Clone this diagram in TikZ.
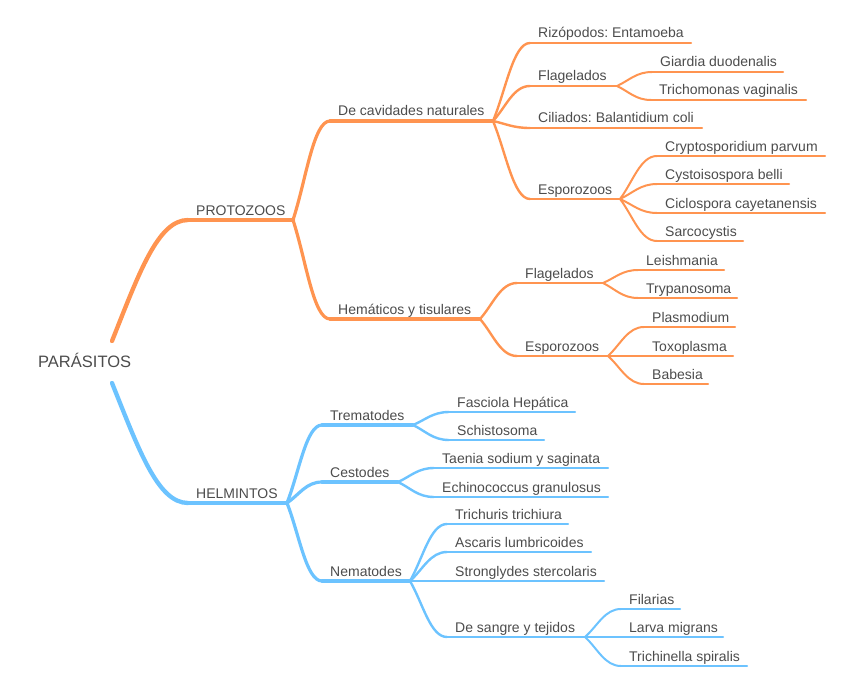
\documentclass[tikz,border=0pt]{standalone}
\usepackage{fontspec}
\setmainfont{Liberation Sans}
\usetikzlibrary{calc}
\definecolor{ora}{HTML}{FF9450}
\definecolor{blu}{HTML}{6CC3FF}
\definecolor{txt}{HTML}{4C4C4C}
\frenchspacing
\newcommand{\mmit}[6]{%
  \coordinate (#1s) at (#2,#3);
  \coordinate (#1e) at (#4,#3);
  \node[lbl] (#1) at (#1s) {#5};
  \draw[#6] (#1s) -- (#1e);
}
\begin{document}
\begin{tikzpicture}[x=1pt,y=-1pt,
  lbl/.style={anchor=base west, inner sep=0pt, xshift=8pt, yshift=5pt, text=txt, font=\fontsize{14}{16}\selectfont},
  rootlbl/.style={anchor=base west, inner sep=0pt, text=txt, font=\fontsize{16.5}{19}\selectfont},
  lA/.style={line width=4.3pt},
  lB/.style={line width=3.2pt},
  lC/.style={line width=2.4pt},
  lD/.style={line width=2pt},
  oc/.style={draw=ora, line cap=round, line join=round},
  bc/.style={draw=blu, line cap=round, line join=round},
  branch/.style={to path={let \p1=(\tikztostart), \p2=(\tikztotarget) in
     .. controls ({\x1+0.35*(\x2-\x1)},{\y1+0.4*(\y2-\y1)}) and ({\x1+0.55*(\x2-\x1)},\y2) .. (\tikztotarget)}},
  rootbranch/.style={line cap=butt, to path={let \p1=(\tikztostart), \p2=(\tikztotarget) in
     .. controls ({\x1+0.35*(\x2-\x1)},{\y1+0.55*(\y2-\y1)}) and ({\x1+0.6*(\x2-\x1)},\y2) .. (\tikztotarget)}}
]
\useasboundingbox (0,0) rectangle (848,690);

% root
\node[rootlbl] (root) at (38,367.7) {PARÁSITOS};
\coordinate (rt) at (112,341);
\coordinate (rb) at (112,383);

% level 1
\mmit{PRO}{188}{220}{293}{PROTOZOOS}{oc,lA}
\mmit{HEL}{188}{503}{287}{HELMINTOS}{bc,lA}

% level 2
\mmit{CAV}{330}{121}{493}{De cavidades naturales}{oc,lB}
\mmit{HEM}{330}{319}{480}{Hemáticos y tisulares}{oc,lB}
\mmit{TRE}{322}{425}{413}{Trematodes}{bc,lB}
\mmit{CES}{322}{482}{398}{Cestodes}{bc,lB}
\mmit{NEM}{322}{581}{410}{Nematodes}{bc,lB}

% level 3
\mmit{RIZ}{530}{43}{691}{Rizópodos: Entamoeba}{oc,lC}
\mmit{FLA}{530}{86}{617}{Flagelados}{oc,lC}
\mmit{CIL}{530}{128}{702}{Ciliados: Balantidium coli}{oc,lC}
\mmit{ESP}{530}{199}{620}{Esporozoos}{oc,lC}
\mmit{FLB}{517}{283}{603}{Flagelados}{oc,lC}
\mmit{ESQ}{517}{356}{608}{Esporozoos}{oc,lC}
\mmit{FAS}{449}{412}{575}{Fasciola Hepática}{bc,lC}
\mmit{SCH}{449}{440}{544}{Schistosoma}{bc,lC}
\mmit{TAE}{434}{468}{608}{Taenia sodium y saginata}{bc,lC}
\mmit{ECH}{434}{497}{608}{Echinococcus granulosus}{bc,lC}
\mmit{TRI}{447}{524}{568}{Trichuris trichiura}{bc,lC}
\mmit{ASC}{447}{552}{591}{Ascaris lumbricoides}{bc,lC}
\mmit{STR}{447}{581}{604}{Stronglydes stercolaris}{bc,lC}
\mmit{SAN}{447}{637}{585}{De sangre y tejidos}{bc,lC}

% level 4
\mmit{GIA}{652}{72}{783}{Giardia duodenalis}{oc,lD}
\mmit{TRC}{651}{100}{806}{Trichomonas vaginalis}{oc,lD}
\mmit{CRY}{657}{156}{825}{Cryptosporidium parvum}{oc,lD}
\mmit{CYS}{657}{184}{789}{Cystoisospora belli}{oc,lD}
\mmit{CIC}{657}{213}{825}{Ciclospora cayetanensis}{oc,lD}
\mmit{SAR}{657}{241}{743}{Sarcocystis}{oc,lD}
\mmit{LEI}{638}{270}{724}{Leishmania}{oc,lD}
\mmit{TRY}{638}{298}{737}{Trypanosoma}{oc,lD}
\mmit{PLA}{644}{327}{735}{Plasmodium}{oc,lD}
\mmit{TOX}{644}{356}{733}{Toxoplasma}{oc,lD}
\mmit{BAB}{644}{384}{708}{Babesia}{oc,lD}
\mmit{FIL}{621}{609}{680}{Filarias}{bc,lD}
\mmit{LAR}{621}{637}{723}{Larva migrans}{bc,lD}
\mmit{TRN}{621}{666}{747}{Trichinella spiralis}{bc,lD}

% connectors
\draw[oc,lA] (rt) to[rootbranch] (PROs);
\draw[bc,lA] (rb) to[rootbranch] (HELs);

\draw[oc,lB] (PROe) to[branch] (CAVs);
\draw[oc,lB] (PROe) to[branch] (HEMs);
\draw[bc,lB] (HELe) to[branch] (TREs);
\draw[bc,lB] (HELe) to[branch] (CESs);
\draw[bc,lB] (HELe) to[branch] (NEMs);

\draw[oc,lC] (CAVe) to[branch] (RIZs);
\draw[oc,lC] (CAVe) to[branch] (FLAs);
\draw[oc,lC] (CAVe) to[branch] (CILs);
\draw[oc,lC] (CAVe) to[branch] (ESPs);
\draw[oc,lC] (HEMe) to[branch] (FLBs);
\draw[oc,lC] (HEMe) to[branch] (ESQs);
\draw[bc,lC] (TREe) to[branch] (FASs);
\draw[bc,lC] (TREe) to[branch] (SCHs);
\draw[bc,lC] (CESe) to[branch] (TAEs);
\draw[bc,lC] (CESe) to[branch] (ECHs);
\draw[bc,lC] (NEMe) to[branch] (TRIs);
\draw[bc,lC] (NEMe) to[branch] (ASCs);
\draw[bc,lC] (NEMe) to[branch] (STRs);
\draw[bc,lC] (NEMe) to[branch] (SANs);

\draw[oc,lD] (FLAe) to[branch] (GIAs);
\draw[oc,lD] (FLAe) to[branch] (TRCs);
\draw[oc,lD] (ESPe) to[branch] (CRYs);
\draw[oc,lD] (ESPe) to[branch] (CYSs);
\draw[oc,lD] (ESPe) to[branch] (CICs);
\draw[oc,lD] (ESPe) to[branch] (SARs);
\draw[oc,lD] (FLBe) to[branch] (LEIs);
\draw[oc,lD] (FLBe) to[branch] (TRYs);
\draw[oc,lD] (ESQe) to[branch] (PLAs);
\draw[oc,lD] (ESQe) to[branch] (TOXs);
\draw[oc,lD] (ESQe) to[branch] (BABs);
\draw[bc,lD] (SANe) to[branch] (FILs);
\draw[bc,lD] (SANe) to[branch] (LARs);
\draw[bc,lD] (SANe) to[branch] (TRNs);
\end{tikzpicture}
\end{document}
